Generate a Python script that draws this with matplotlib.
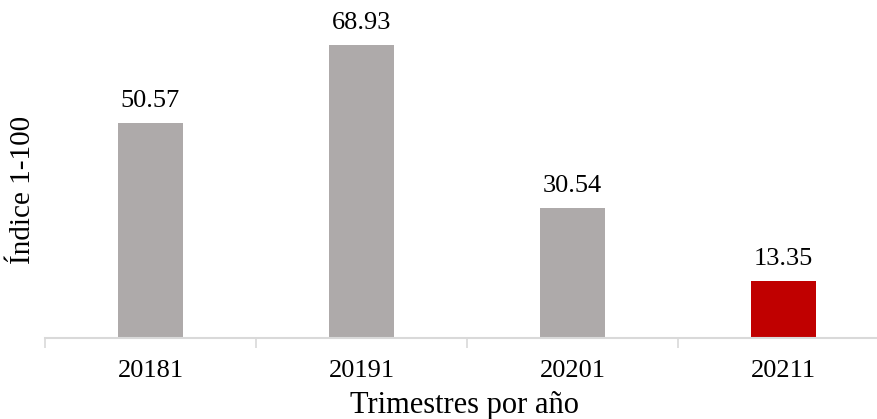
import matplotlib
matplotlib.use("Agg")
import matplotlib.pyplot as plt

categories = ["20181", "20191", "20201", "20211"]
values = [50.57, 68.93, 30.54, 13.35]
colors = ["#AEAAAA", "#AEAAAA", "#AEAAAA", "#C00000"]

plt.rcParams['font.family'] = ['Liberation Serif', 'DejaVu Serif']

W, H = 878, 419
fig = plt.figure(figsize=(W/100, H/100), dpi=100)
left = 45 / W
right_px = 45 + 4 * 211
bottom = (H - 338) / H
ax = fig.add_axes([left, bottom, (right_px - 45) / W, 1 - bottom])

x = list(range(len(categories)))
ax.bar(x, values, width=0.31, color=colors, zorder=2)
for xi, v in zip(x, values):
    ax.annotate(f"{v:.2f}", (xi, v), xytext=(0, 16), textcoords="offset points",
                ha="center", va="center", fontsize=19, color="#000000")

ax.set_xlim(-0.5, 3.5)
ax.set_ylim(0, 338 / 4.2515)
ax.set_xticks(x)
ax.set_xticklabels(categories, fontsize=19)
ax.set_xticks([-0.5, 0.5, 1.5, 2.5, 3.5], minor=True)
ax.tick_params(axis="x", which="major", length=0, pad=16)
ax.tick_params(axis="x", which="minor", length=7, width=1.2, color="#D9D9D9")
ax.set_yticks([])
for s in ["top", "right", "left"]:
    ax.spines[s].set_visible(False)
ax.spines["bottom"].set_color("#D9D9D9")
ax.spines["bottom"].set_linewidth(1.5)

fig.text(465 / W, 1 - 413 / H, "Trimestres por año", ha="center", va="baseline", fontsize=22)
fig.text(23 / W, 1 - 190 / H, "Índice 1-100", ha="center", va="center", rotation=90, fontsize=21)

fig.savefig("out.png", dpi=100)
